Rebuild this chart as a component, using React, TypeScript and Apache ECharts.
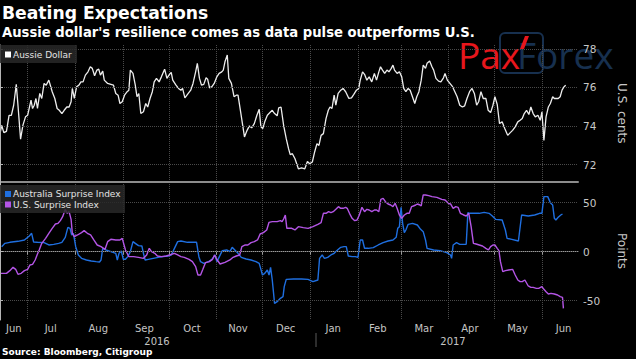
import React, { useEffect, useRef } from 'react';
import * as echarts from 'echarts';

const FONT = '"DejaVu Sans", sans-serif';

const TITLE = 'Beating Expectations';
const SUBTITLE = "Aussie dollar's resilience comes as data pulse outperforms U.S.";
const SOURCE = 'Source: Bloomberg, Citigroup';

const START = '2016-06-13';
const AXIS_END = '2017-06-24';
const MONTH_STARTS = ['2016-07-01', '2016-08-01', '2016-09-01', '2016-10-01', '2016-11-01', '2016-12-01', '2017-01-01', '2017-02-01', '2017-03-01', '2017-04-01', '2017-05-01', '2017-06-01'];
const MONTH_LABEL_AT = ['2016-06-22', '2016-07-16', '2016-08-16', '2016-09-15', '2016-10-16', '2016-11-15', '2016-12-16', '2017-01-16', '2017-02-14', '2017-03-16', '2017-04-15', '2017-05-16', '2017-06-15'];
const MONTH_NAMES = ['Jun', 'Jul', 'Aug', 'Sep', 'Oct', 'Nov', 'Dec', 'Jan', 'Feb', 'Mar', 'Apr', 'May', 'Jun'];
const YEAR_LABELS = ['2016', '2017'];

const AUD_TICKS = [72, 74, 76, 78];
const SURPRISE_TICKS = [-50, 0, 50];

// [days since START, value]
const AUD: [number, number][] = [
  [0, 73.61], [1.1, 74.04], [2.5, 73.66], [4.2, 73.73], [5.9, 74.56], [7.4, 74.56], [8.9, 75.08], [10.6, 76.16], [11.7, 75.08], [13.4, 73.32],
  [14.9, 74.04], [16.6, 74.48], [18, 74.56], [20.2, 75.34], [21.2, 74.91], [22.3, 75.08], [23.4, 75.43], [24.4, 74.91], [25.9, 75.69], [27.2, 75.43],
  [28.7, 76.21], [30.1, 76.12], [31.8, 76.38], [34, 75.78], [35.7, 75.43], [37.2, 74.91], [38.6, 74.82], [40.3, 74.65], [41.8, 74.82], [43.5, 74.99],
  [45, 74.99], [46.3, 75.26], [47.1, 75.95], [48.4, 75.43], [49.9, 76.04], [51.4, 76.12], [52.7, 76.29], [54.1, 76.29], [55.6, 76.64], [57.3, 76.81],
  [58.8, 77.07], [60.1, 76.99], [61.6, 76.61], [63.1, 76.9], [64.3, 76.95], [65.4, 76.64], [66.9, 76.85], [67.9, 76.38], [70.1, 76.21], [72.2, 76.16],
  [73.9, 76.12], [75.4, 75.69], [76.9, 75.6], [78.1, 75.17], [79.6, 75.26], [81.1, 75.6], [82.8, 75.78], [83.9, 75.86], [84.9, 76.9], [86.6, 76.73],
  [88.1, 76.12], [89.2, 75.52], [90.4, 75.69], [91.7, 74.65], [93.4, 74.74], [94.9, 75.17], [96.2, 74.99], [97.7, 75.43], [99.2, 75.78], [100.4, 76.29],
  [101.9, 76.47], [103.6, 76.29], [105.1, 76.55], [107.2, 76.95], [108.7, 76.47], [110, 76.64], [111.5, 76.78], [112.5, 76.38], [114.6, 76.12], [116.3, 75.95],
  [117.8, 75.86], [118.9, 75.95], [120.4, 75.46], [122.1, 75.64], [124.2, 75.86], [125.7, 76.21], [127.4, 76.81], [128.5, 77.25], [129.9, 76.47], [131.2, 76.12],
  [132.7, 76.16], [134.2, 76.5], [135.2, 76.43], [136.5, 75.98], [138, 76.04], [139.5, 76.21], [141.2, 76.55], [142.7, 76.73], [144.4, 76.81], [145.4, 76.9],
  [146.5, 77.33], [148, 77.68], [149, 76.47], [150.7, 76.21], [152.4, 75.52], [153.9, 75.6], [155, 75.6], [156.7, 74.74], [158.2, 73.96], [159.2, 73.44],
  [160.9, 73.78], [162.4, 74.01], [163.9, 73.91], [165.6, 74.13], [167.3, 74.56], [168.8, 74.87], [169.9, 73.96], [171.1, 73.87], [172.4, 74.22], [174.1, 74.56],
  [175.8, 74.7], [177.3, 74.82], [178.8, 74.65], [180.5, 74.53], [181.5, 74.94], [183, 74.99], [184.7, 74.04], [186.4, 73.35], [187.9, 72.83], [189, 72.52],
  [190.4, 72.57], [192.1, 72.31], [194.3, 71.79], [196.4, 71.83], [198.5, 71.79], [200.2, 72.17], [201.7, 72.05], [203.4, 72.14], [204.9, 72.66], [206.4, 73.09],
  [207.7, 73.0], [209.1, 73.52], [210.6, 73.61], [212.3, 74.39], [213.8, 74.82], [214.9, 74.99], [216.2, 74.91], [217.6, 75.6], [218.7, 75.08], [220.2, 75.69],
  [221.9, 75.86], [223.4, 75.95], [225.1, 75.78], [227.2, 75.43], [228.9, 75.46], [230.4, 75.64], [232.1, 75.86], [233.6, 75.95], [234.6, 76.38], [236.1, 76.81],
  [237.4, 76.68], [238.9, 76.38], [240.4, 76.55], [242.1, 76.29], [243.8, 76.73], [245.2, 76.38], [246.7, 76.81], [247.8, 77.07], [249.1, 76.9], [250.5, 76.73],
  [252, 76.9], [253.3, 76.81], [254.8, 76.99], [255.9, 77.16], [256.9, 76.9], [258.6, 76.73], [260.1, 76.81], [261.6, 76.55], [262.9, 75.95], [264.3, 75.78],
  [265.8, 75.95], [267.1, 75.86], [268.6, 75.52], [270.1, 75.17], [271.4, 75.52], [272.8, 75.78], [274.3, 76.38], [275.6, 77.16], [277.1, 76.99], [278.1, 77.25],
  [279.8, 77.37], [281.3, 77.07], [282.4, 76.9], [283.9, 76.47], [285.6, 76.33], [287.1, 76.29], [288.8, 76.5], [289.8, 76.73], [291.3, 76.38], [293, 76.21],
  [294.7, 76.04], [296.2, 75.78], [297.7, 75.52], [299.4, 75.08], [301.1, 74.99], [302.6, 75.05], [304.1, 75.43], [305.8, 75.78], [307.4, 75.95], [308.9, 75.69],
  [310.4, 75.08], [311.7, 75.26], [313.2, 75.78], [314.7, 75.43], [316.4, 75.43], [317.9, 74.82], [319.5, 74.7], [321, 75.08], [322.3, 75.52], [323.8, 75.12],
  [325.3, 74.13], [327, 74.22], [328.7, 73.87], [330.6, 73.52], [332.3, 73.66], [333.8, 73.78], [335.5, 73.96], [337.2, 74.22], [338.7, 74.3], [340.1, 74.39],
  [341.4, 74.65], [342.9, 74.82], [344.4, 74.6], [345.7, 74.99], [347.2, 74.65], [348.6, 74.48], [350.3, 74.56], [351.8, 74.3], [352.9, 74.74], [354.2, 73.26],
  [355.6, 74.48], [357.1, 74.99], [358.4, 75.17], [359.9, 75.52], [361, 75.43], [362.2, 75.43], [363.5, 75.43], [364.8, 75.52], [366, 75.86], [367.3, 76.04],
  [368.4, 76.12],
];

const AUS_SURPRISE: [number, number][] = [
  [1.1, 5.13], [3.2, 8.53], [6.4, 9.56], [11.7, 10.58], [15.9, 11.94], [19.1, 16.02], [20.6, 18.74], [21.9, 9.9], [24.4, 9.56], [28.7, 9.22],
  [31.8, 6.83], [35, 7.51], [38.2, 8.53], [40.3, 9.56], [42.5, 14.66], [44.2, 24.86], [45.6, 23.84], [46.7, 17.04], [47.8, 18.74], [49.3, 5.13],
  [51, -3.37], [53.1, -6.77], [56.3, -8.47], [59.4, -9.49], [62.6, -10.17], [64.8, -10.51], [65.8, -8.47], [66.9, 3.43], [69, 1.73], [72.2, 0.03],
  [75.4, -1.67], [76.4, -8.47], [77.5, -1.67], [79, 0.71], [80.3, -7.79], [81.7, -7.79], [83.2, -5.07], [84.9, 0.03], [86.6, 10.24], [88.1, 8.53],
  [90.2, 6.16], [92.4, 5.81], [93.4, -1.67], [94.5, -8.47], [96.6, -7.79], [99.8, -6.77], [103, -5.75], [106.2, -5.07], [109.3, -4.39], [111.5, -3.37],
  [113.6, 3.43], [115.7, 10.24], [117.8, 10.92], [122.1, 9.56], [125.3, 9.56], [128, 9.56], [129.5, -5.07], [130.6, -10.17], [132.7, -11.87], [135.9, -10.17],
  [138, -7.79], [140.1, -3.37], [141.2, -10.17], [142.3, -6.77], [144.8, 1.05], [147.6, 1.73], [149.7, 0.03], [151.2, 4.45], [152.9, 1.73], [155, -1.67],
  [157.1, -5.75], [160.3, -7.45], [163.5, -8.47], [166.7, -10.17], [168.8, -11.87], [169.9, -17.99], [170.9, -23.78], [172.4, -22.08], [174.1, -18.67], [175.2, -23.78],
  [176.2, -15.96], [177.3, -28.88], [178.8, -52.69], [180.5, -50.99], [182.6, -47.59], [184.3, -45.89], [185.1, -35.68], [186.4, -28.2], [191.1, -27.86], [196.4, -27.86],
  [200.6, -28.2], [203.8, -30.58], [207, -28.88], [208.1, -6.77], [209.8, -3.37], [211.3, -6.77], [213.4, -5.75], [215.5, -3.37], [217.6, -1.67], [219.8, 1.73],
  [221.9, 4.45], [224, 5.13], [225.5, 5.13], [226.8, -4.39], [229.3, -5.07], [231.4, -5.07], [233.1, -5.75], [234.6, 11.94], [236.1, 11.94], [237.4, 3.43],
  [239.9, 3.43], [243.1, 4.11], [246.3, 6.83], [249.5, 9.22], [252.7, 10.92], [255.9, 11.94], [258, 14.66], [259, 23.84], [260.1, 25.54], [261.2, 45.27],
  [262.2, 28.94], [263.3, 19.42], [264.3, 22.14], [265.8, 27.92], [268.6, 28.94], [271.8, 27.24], [273.9, 22.82], [275.6, 20.44], [277.1, 11.94], [278.1, 3.43],
  [282.4, 1.73], [286.6, 1.05], [290.9, -0.99], [293.4, -3.37], [294.1, -6.77], [295.1, 6.83], [297.3, 9.22], [299.4, 7.51], [301.5, 7.51], [303.6, 7.51],
  [304.7, 39.83], [305.7, 39.15], [308.9, 39.15], [312.1, 39.15], [315.3, 40.17], [318.5, 39.15], [320.6, 36.43], [322.7, 33.02], [327, 32.34], [329.1, 22.14],
  [330.2, 13.64], [333.3, 12.62], [337.6, 10.92], [339.7, 37.45], [344, 36.43], [348.2, 37.45], [351.4, 39.15], [352.9, 39.15], [354.2, 56.15], [356.7, 56.15],
  [358.4, 50.03], [359.9, 47.65], [361, 34.04], [362, 32.34], [363.5, 35.06], [365.2, 37.45], [366.3, 38.47],
];

const US_SURPRISE: [number, number][] = [
  [0, -22.08], [4.2, -22.08], [6.4, -19.36], [8.5, -15.96], [10.2, -18.0], [11.7, -23.1], [13.8, -22.08], [15.9, -19.36], [18, -18.0], [19.5, -13.57],
  [21.2, -12.89], [22.9, -8.47], [24.4, -2.35], [25.5, 1.73], [27.2, 8.53], [29.7, 13.64], [31.8, 18.74], [34, 23.84], [36.1, 28.26], [37.8, 28.94],
  [39.3, 31.66], [40.8, 35.75], [42.5, 43.23], [43.7, 39.15], [45, 40.85], [46.3, 33.02], [47.1, 18.74], [48.4, 15.34], [50.5, 17.04], [53.1, 19.42],
  [54.8, 21.46], [56.9, 18.74], [59, 17.04], [61.1, 11.94], [63.3, 6.83], [65.8, 5.13], [68.4, 2.41], [70.1, 10.24], [72.2, 12.62], [75.4, 11.94],
  [78.1, 11.94], [79.6, 13.64], [81.7, 1.73], [83.9, -5.07], [87, -5.07], [90.2, -5.75], [93.4, -6.77], [95.5, -3.37], [97.2, 3.43], [98.7, 0.03],
  [100.8, -1.67], [102.5, -4.39], [105.1, -5.07], [108.3, -4.39], [110.4, -3.37], [113.6, -1.67], [115.7, -3.37], [117.8, -5.07], [120, -5.75], [123.1, -7.79],
  [125.3, -10.17], [127.4, -15.28], [128.9, -23.78], [130.6, -23.78], [132.1, -18.0], [133.8, -11.19], [136.3, -10.17], [138.4, -7.79], [139.7, -3.37], [141.2, -7.79],
  [143.3, -12.55], [146.5, -10.85], [149.7, -8.47], [151.8, -5.75], [153.9, -4.39], [156.1, -3.37], [157.5, 5.13], [159.7, 6.83], [161.4, 6.83], [163.5, 9.22],
  [165.6, 10.24], [167.7, 11.94], [169.4, 18.06], [171.5, 19.42], [173.7, 22.14], [175.2, 29.96], [177.3, 30.64], [180.5, 30.64], [182.6, 31.66], [183.7, 30.64],
  [184.7, 33.36], [185.8, 37.45], [186.8, 23.84], [190, 23.84], [192.1, 22.14], [194.3, 25.54], [197.5, 24.52], [200.6, 23.84], [203.8, 25.54], [207, 27.92],
  [209.1, 29.62], [210.6, 39.15], [212.3, 39.15], [214, 40.85], [215.5, 39.83], [217, 40.85], [218.7, 43.23], [220.4, 45.95], [221.9, 44.25], [223.4, 44.25],
  [225.1, 45.27], [226.1, 44.25], [227.6, 39.15], [229.3, 34.04], [231, 31.66], [232.5, 32.34], [234, 37.45], [235.7, 45.27], [237.4, 40.85], [238.9, 43.23],
  [240.4, 42.55], [242.1, 40.85], [243.8, 42.55], [245.2, 42.55], [246.7, 40.85], [248, 53.43], [249.5, 54.45], [251, 51.05], [252.7, 48.67], [254.4, 47.65],
  [255.9, 45.95], [257.3, 49.35], [258.6, 44.25], [260.1, 37.45], [261.6, 34.04], [263.3, 37.45], [265, 39.15], [266.5, 39.15], [268, 45.95], [269.2, 46.63],
  [270.7, 47.65], [271.8, 48.67], [273.5, 47.65], [274.3, 46.63], [275.6, 57.85], [277.1, 57.85], [279.2, 57.17], [281.3, 56.15], [284.5, 55.47], [287.7, 53.43],
  [289.8, 52.75], [292, 49.35], [293.4, 48.67], [295.1, 44.25], [296.8, 45.95], [298.3, 45.27], [299.8, 39.15], [301.9, 37.45], [303.6, 36.43], [305.3, 39.15],
  [306.8, 25.54], [308.3, 8.53], [310, 7.85], [312.1, 6.83], [314.2, 5.81], [316.4, 3.43], [318.1, 1.73], [319.5, 5.13], [321, 6.83], [322.3, 6.83],
  [323.8, 3.43], [324.9, 1.05], [325.9, -10.17], [327.4, -20.38], [329.1, -19.36], [331.2, -18.67], [333.8, -18.0], [335.5, -23.78], [337.2, -28.88], [338.7, -30.58],
  [340.1, -30.58], [341.8, -28.88], [344, -35.0], [345.7, -36.37], [347.2, -36.37], [349.3, -37.39], [350.8, -37.39], [352.9, -35.68], [354.2, -38.4], [355.6, -40.78],
  [357.1, -43.17], [358.8, -42.49], [361, -43.17], [363.1, -44.19], [364.8, -45.89], [366.3, -46.57], [366.9, -57.79],
];

const DAY = 86400000;
const toDate = (s: string) => {
  const [y, m, d] = s.split('-').map(Number);
  return Date.UTC(y, m - 1, d);
};
// day offset of a date from START (the x axis is measured in days)
const dayOf = (s: string) => Math.round((toDate(s) - toDate(START)) / DAY);

export default function App() {
  const ref = useRef<HTMLDivElement>(null);

  useEffect(() => {
    if (!ref.current) return;
    const chart = echarts.init(ref.current, null, { renderer: 'svg' });
    const monthTicks = MONTH_STARTS.map(dayOf);
    const labelDays = MONTH_LABEL_AT.map(dayOf);
    const labelName = new Map<number, string>();
    labelDays.forEach((d, i) => labelName.set(d, MONTH_NAMES[i]));

    const grid = [
      { left: 0, top: 45, width: 591, height: 136.5 },
      { left: 0, top: 182, width: 591, height: 138 },
    ];

    const dotted = { color: '#4a4a4a', type: 'dotted' as const, width: 1 };

    const xBase = {
      type: 'value' as const,
      min: 0,
      max: dayOf(AXIS_END) + 0.4,
      splitLine: { show: true, lineStyle: dotted },
    };

    const yBase = (gridIndex: number, min: number, max: number, ticks: number[], name: string) => ({
      type: 'value' as const,
      gridIndex,
      position: 'right' as const,
      min,
      max,
      z: 5,
      name,
      nameLocation: 'middle' as const,
      nameGap: 38,
      nameRotate: -90,
      nameTextStyle: { color: '#c8c8c8', fontSize: 12, fontFamily: FONT },
      axisLine: { show: true, lineStyle: { color: '#b5b5b5', width: 1 } },
      axisTick: { show: true, length: 3, customValues: ticks, lineStyle: { color: '#b5b5b5' } },
      axisLabel: { customValues: ticks, color: '#c8c8c8', fontSize: 10.5, margin: 5, fontFamily: FONT },
      splitLine: { show: true, lineStyle: dotted },
    });

    const txt = (text: string, x: number, y: number, size: number, fill: string, extra: any = {}) => ({
      type: 'text',
      x,
      y,
      z: 20,
      style: { text, fill, fontSize: size, fontFamily: FONT, verticalAlign: 'middle', ...extra },
    });

    const option: any = {
      backgroundColor: '#000',
      animation: false,
      title: [
        { text: TITLE, left: 2, top: 4, padding: 0, textStyle: { color: '#fff', fontSize: 17.2, fontWeight: 'bold', fontFamily: FONT } },
        { text: SUBTITLE, left: 2, top: 25.5, padding: 0, textStyle: { color: '#fff', fontSize: 13.2, fontWeight: 'bold', fontFamily: FONT } },
        { text: SOURCE, left: 2, top: 347, padding: 0, textStyle: { color: '#fff', fontSize: 9, fontWeight: 'bold', fontFamily: FONT } },
      ],
      grid,
      xAxis: [
        {
          ...xBase,
          gridIndex: 0,
          axisLine: { show: true, lineStyle: { color: '#8c8c8c', width: 2 } },
          axisTick: { show: false, customValues: monthTicks },
          axisLabel: { show: false, customValues: monthTicks },
        },
        {
          ...xBase,
          gridIndex: 1,
          axisLine: { show: true, lineStyle: { color: '#9a9a9a', width: 1 } },
          axisTick: { show: true, length: 3, customValues: monthTicks, lineStyle: { color: '#9a9a9a' } },
          axisLabel: {
            customValues: labelDays,
            color: '#c4c4c4',
            fontSize: 10,
            margin: 3,
            fontFamily: FONT,
            formatter: (v: number) => labelName.get(Math.round(v)) ?? '',
          },
        },
      ],
      yAxis: [
        yBase(0, 71.13, 78.2, AUD_TICKS, 'U.S. cents'),
        yBase(1, -69.7, 71.1, SURPRISE_TICKS, 'Points'),
      ],
      series: [
        {
          name: 'Aussie Dollar', type: 'line', xAxisIndex: 0, yAxisIndex: 0,
          data: AUD, showSymbol: false, symbol: 'none',
          lineStyle: { color: '#ededed', width: 1.3 },
        },
        {
          name: 'Australia Surprise Index', type: 'line', xAxisIndex: 1, yAxisIndex: 1,
          data: AUS_SURPRISE, showSymbol: false, symbol: 'none',
          lineStyle: { color: '#1f6fe0', width: 1.4 },
        },
        {
          name: 'U.S. Surprise Index', type: 'line', xAxisIndex: 1, yAxisIndex: 1,
          data: US_SURPRISE, showSymbol: false, symbol: 'none',
          lineStyle: { color: '#b455e6', width: 1.4 },
        },
      ],
      graphic: [
        // logo watermark
        { type: 'text', x: 458, y: 54, z: -1, style: { text: 'Pax', fill: '#e8161c', fontSize: 37, fontFamily: '"Open Sans", sans-serif', verticalAlign: 'middle' } },
        { type: 'text', x: 517, y: 54, z: -1, style: { text: 'Forex', fill: '#17304f', fontSize: 37, fontFamily: '"Open Sans", sans-serif', verticalAlign: 'middle' } },
        { type: 'rect', z: -1, shape: { x: 500, y: 33, width: 43, height: 40, r: 5 }, style: { fill: 'none', stroke: '#17304f', lineWidth: 2 } },
        { type: 'polygon', z: -1, shape: { points: [[520, 49], [524, 49], [529, 36], [525, 36]] }, style: { fill: '#e8161c' } },
        // top legend
        { type: 'rect', z: 18, shape: { x: 0, y: 45, width: 77, height: 18 }, style: { fill: 'rgba(40,40,40,0.85)' } },
        { type: 'rect', z: 19, shape: { x: 5, y: 51.5, width: 6, height: 6 }, style: { fill: '#ffffff' } },
        txt('Aussie Dollar', 13, 54.5, 9, '#e4e4e4'),
        // bottom legend
        { type: 'rect', z: 18, shape: { x: 0, y: 185, width: 125, height: 28 }, style: { fill: 'rgba(40,40,40,0.85)' } },
        { type: 'rect', z: 19, shape: { x: 5, y: 191, width: 6, height: 6 }, style: { fill: '#1f6fe0' } },
        txt('Australia Surprise Index', 13, 194.2, 9, '#e4e4e4'),
        { type: 'rect', z: 19, shape: { x: 5, y: 201.5, width: 6, height: 6 }, style: { fill: '#b455e6' } },
        txt('U.S. Surprise Index', 13, 204.7, 9, '#e4e4e4'),
        // year labels
        txt(YEAR_LABELS[0], 157, 341, 10, '#c4c4c4', { align: 'center' }),
        txt(YEAR_LABELS[1], 453, 341, 10, '#c4c4c4', { align: 'center' }),
        { type: 'line', z: 19, shape: { x1: 316, y1: 333, x2: 316, y2: 347 }, style: { stroke: '#5a5a5a', lineWidth: 1 } },
      ],
    };

    chart.setOption(option);
    return () => chart.dispose();
  }, []);

  return <div ref={ref} style={{ position: 'absolute', left: 0, top: 0, width: 636, height: 359 }} />;
}
